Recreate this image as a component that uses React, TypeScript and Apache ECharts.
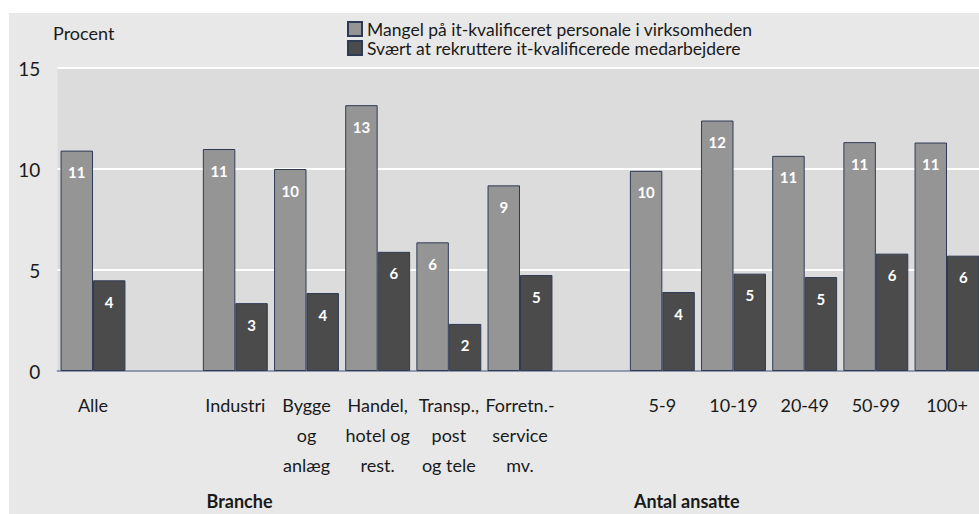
import React, { useEffect, useRef } from "react";
import * as echarts from "echarts";

const categories = [
  "Alle",
  "",
  "Industri",
  "Bygge\nog\nanlæg",
  "Handel,\nhotel og\nrest.",
  "Transp.,\npost\nog tele",
  "Forretn.-\nservice\nmv.",
  " ",
  "5-9",
  "10-19",
  "20-49",
  "50-99",
  "100+",
];
const seriesNames = [
  "Mangel på it-kvalificeret personale i virksomheden",
  "Svært at rekruttere it-kvalificerede medarbejdere",
];
const mangel = [10.91, "-", 10.99, 10.0, 13.16, 6.37, 9.19, "-", 9.91, 12.4, 10.65, 11.33, 11.31];
const svaert = [4.49, "-", 3.36, 3.86, 5.9, 2.33, 4.75, "-", 3.91, 4.82, 4.65, 5.81, 5.71];
const yTicks = [0, 5, 10, 15];
const groupTitles = ["Branche", "Antal ansatte"];

const FONT = "Lato, sans-serif";
const FS = 18;

export default function App() {
  const ref = useRef<HTMLDivElement>(null);
  useEffect(() => {
    if (!ref.current) return;
    const chart = echarts.init(ref.current, null, { renderer: "svg" });
    const labelCfg = {
      show: true,
      position: "insideTop",
      distance: 14,
      color: "#ffffff",
      fontFamily: FONT,
      fontWeight: "bold",
      fontSize: 15,
      formatter: (p: any) => String(Math.round(p.value)),
    };
    chart.setOption({
      animation: false,
      textStyle: { fontFamily: FONT },
      legend: {
        orient: "vertical",
        left: 347,
        top: 20,
        padding: 0,
        itemWidth: 14,
        itemHeight: 14,
        itemGap: 1,
        icon: "rect",
        textStyle: { fontFamily: FONT, fontSize: 17.5, color: "#1a1a1a", lineHeight: 17 },
        data: seriesNames,
      },
      grid: {
        left: 57.4,
        top: 68,
        width: 925.2,
        height: 303,
        show: true,
        backgroundColor: "#dcdcdc",
        borderWidth: 0,
        containLabel: false,
      },
      xAxis: {
        type: "category",
        data: categories,
        axisTick: { show: false },
        axisLine: { show: true, lineStyle: { color: "#6b7a93", width: 1.5 } },
        axisLabel: {
          interval: 0,
          margin: 19,
          fontFamily: FONT,
          fontSize: FS,
          lineHeight: 30,
          color: "#1a1a1a",
          align: "center",
        },
      },
      yAxis: {
        type: "value",
        min: 0,
        max: 15,
        interval: 5,
        axisLine: { show: false },
        axisTick: { show: false },
        splitLine: { show: true, lineStyle: { color: "#ffffff", width: 2 } },
        axisLabel: {
          margin: 17,
          fontFamily: FONT,
          fontSize: FS + 1,
          color: "#1a1a1a",
          formatter: (v: number) => (yTicks.includes(v) ? String(v) : ""),
        },
      },
      series: [
        {
          name: seriesNames[0],
          type: "bar",
          data: mangel,
          barGap: "0%",
          barCategoryGap: "8.8%",
          itemStyle: { color: "#959595", borderColor: "#2f3b55", borderWidth: 1 },
          label: labelCfg,
        },
        {
          name: seriesNames[1],
          type: "bar",
          data: svaert,
          barGap: "0%",
          barCategoryGap: "8.8%",
          itemStyle: { color: "#4b4b4b", borderColor: "#2f3b55", borderWidth: 1 },
          label: labelCfg,
        },
      ],
      graphic: [
        {
          type: "text",
          x: 53,
          y: 33,
          style: { text: "Procent", fontFamily: FONT, fontSize: FS, fill: "#1a1a1a", verticalAlign: "middle" },
        },
        {
          type: "text",
          x: 239.5,
          y: 501,
          style: {
            text: groupTitles[0],
            fontFamily: FONT,
            fontSize: FS,
            fontWeight: "bold",
            fill: "#1a1a1a",
            align: "center",
            verticalAlign: "middle",
          },
        },
        {
          type: "text",
          x: 686.7,
          y: 501,
          style: {
            text: groupTitles[1],
            fontFamily: FONT,
            fontSize: FS,
            fontWeight: "bold",
            fill: "#1a1a1a",
            align: "center",
            verticalAlign: "middle",
          },
        },
      ],
    });
    return () => chart.dispose();
  }, []);
  return (
    <div
      style={{
        position: "fixed",
        left: 0,
        top: 0,
        width: 979,
        height: 514,
        overflow: "hidden",
        background: "#ffffff",
      }}
    >
      <div
        style={{
          position: "absolute",
          left: 9,
          top: 13,
          width: 970,
          height: 501,
          background: "#e8e8e8",
        }}
      />
      <div ref={ref} style={{ position: "absolute", left: 0, top: 0, width: 984, height: 514 }} />
    </div>
  );
}
